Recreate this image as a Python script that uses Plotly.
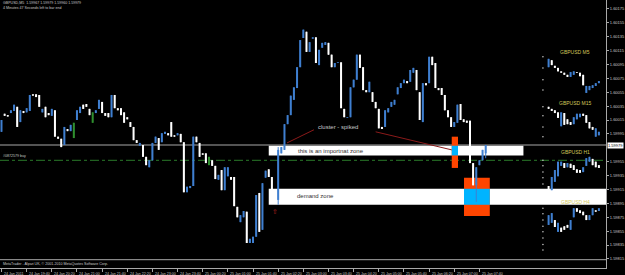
import plotly.graph_objects as go
import pandas as pd

# ---------------- data (GBPUSD M5) ----------------
bar_times = pd.date_range("2011-01-24 19:00", periods=155, freq="5min")

opens = [
    1.59998, 1.60024, 1.60022, 1.60025, 1.60028, 1.60034, 1.60012, 1.60028, 1.60026, 1.60028,
    1.60052, 1.60052, 1.60051, 1.60026, 1.60034, 1.60025, 1.60021, 1.60029, 1.59991, 1.59988,
    1.59979, 1.60002, 1.59999, 1.59989, 1.60015, 1.60025, 1.60037, 1.60038, 1.60031, 1.60011,
    1.60025, 1.60031, 1.60041, 1.60025, 1.60025, 1.60019, 1.60051, 1.60032, 1.60032, 1.60026,
    1.60019, 1.60012, 1.60005, 1.59986, 1.59978, 1.59979, 1.59962, 1.59947, 1.59957, 1.59982,
    1.59989, 1.59983, 1.59995, 1.59996, 1.60012, 1.59993, 1.59993, 1.59995, 1.59983, 1.59911,
    1.59917, 1.59920, 1.59991, 1.59982, 1.59967, 1.59967, 1.59950, 1.59957, 1.59949, 1.59929,
    1.59943, 1.59914, 1.59934, 1.59933, 1.59933, 1.59890, 1.59868, 1.59875, 1.59883, 1.59838,
    1.59838, 1.59847, 1.59910, 1.59857, 1.59932, 1.59944, 1.59933, 1.59914, 1.59900, 1.59967,
    1.59972, 1.60009, 1.60022, 1.60044, 1.60061, 1.60091, 1.60133, 1.60142, 1.60113, 1.60132,
    1.60134, 1.60094, 1.60119, 1.60123, 1.60126, 1.60109, 1.60091, 1.60097, 1.60098, 1.60031,
    1.60018, 1.60019, 1.60062, 1.60073, 1.60109, 1.60091, 1.60058, 1.60055, 1.60055, 1.60041,
    1.60031, 1.60005, 1.60005, 1.60026, 1.60034, 1.60037, 1.60052, 1.60061, 1.60068, 1.60071,
    1.60070, 1.60083, 1.60087, 1.60055, 1.60012, 1.60068, 1.60068, 1.60106, 1.60097, 1.60061,
    1.60061, 1.60051, 1.60029, 1.60019, 1.60005, 1.60011, 1.60038, 1.60016, 1.60014, 1.60014,
    1.59953, 1.59921, 1.59950, 1.59957, 1.59967,
]
highs = [
    1.60015, 1.60024, 1.60022, 1.60029, 1.60037, 1.60034, 1.60029, 1.60028, 1.60032, 1.60051,
    1.60052, 1.60052, 1.60051, 1.60031, 1.60034, 1.60025, 1.60031, 1.60029, 1.59991, 1.59988,
    1.60005, 1.60002, 1.60008, 1.60011, 1.60029, 1.60034, 1.60037, 1.60038, 1.60031, 1.60026,
    1.60029, 1.60044, 1.60041, 1.60025, 1.60025, 1.60051, 1.60051, 1.60032, 1.60032, 1.60026,
    1.60019, 1.60012, 1.60005, 1.59986, 1.59982, 1.59979, 1.59962, 1.59957, 1.59982, 1.59991,
    1.59989, 1.59996, 1.59998, 1.59996, 1.60012, 1.59993, 1.59996, 1.59995, 1.59983, 1.59919,
    1.59920, 1.59991, 1.59991, 1.59982, 1.59967, 1.59967, 1.59962, 1.59957, 1.59949, 1.59936,
    1.59943, 1.59947, 1.59947, 1.59933, 1.59933, 1.59890, 1.59878, 1.59884, 1.59883, 1.59844,
    1.59847, 1.59907, 1.59910, 1.59924, 1.59942, 1.59944, 1.59933, 1.59914, 1.59976, 1.59976,
    1.60009, 1.60022, 1.60050, 1.60062, 1.60091, 1.60130, 1.60145, 1.60142, 1.60127, 1.60134,
    1.60134, 1.60116, 1.60126, 1.60127, 1.60126, 1.60109, 1.60097, 1.60098, 1.60098, 1.60031,
    1.60019, 1.60062, 1.60073, 1.60109, 1.60109, 1.60091, 1.60058, 1.60070, 1.60055, 1.60041,
    1.60031, 1.60005, 1.60029, 1.60032, 1.60041, 1.60044, 1.60062, 1.60068, 1.60073, 1.60071,
    1.60087, 1.60090, 1.60087, 1.60055, 1.60068, 1.60068, 1.60106, 1.60106, 1.60097, 1.60061,
    1.60061, 1.60051, 1.60029, 1.60019, 1.60012, 1.60037, 1.60038, 1.60016, 1.60014, 1.60014,
    1.59953, 1.59947, 1.59957, 1.59972, 1.59979,
]
lows = [
    1.59998, 1.60021, 1.60020, 1.60025, 1.60028, 1.60005, 1.60012, 1.60025, 1.60026, 1.60028,
    1.60050, 1.60048, 1.60034, 1.60026, 1.60019, 1.60022, 1.60021, 1.59991, 1.59988, 1.59976,
    1.59979, 1.59999, 1.59999, 1.59989, 1.60015, 1.60025, 1.60031, 1.60034, 1.60022, 1.60011,
    1.60025, 1.60031, 1.60025, 1.60021, 1.60019, 1.60019, 1.60032, 1.60029, 1.60022, 1.60011,
    1.60016, 1.60005, 1.59986, 1.59982, 1.59978, 1.59962, 1.59950, 1.59947, 1.59957, 1.59982,
    1.59972, 1.59983, 1.59995, 1.59993, 1.59991, 1.59991, 1.59993, 1.59983, 1.59911, 1.59911,
    1.59917, 1.59920, 1.59983, 1.59962, 1.59965, 1.59953, 1.59950, 1.59949, 1.59930, 1.59929,
    1.59914, 1.59914, 1.59934, 1.59929, 1.59891, 1.59875, 1.59868, 1.59875, 1.59838, 1.59838,
    1.59838, 1.59847, 1.59854, 1.59857, 1.59932, 1.59933, 1.59914, 1.59896, 1.59893, 1.59967,
    1.59972, 1.60009, 1.60022, 1.60044, 1.60061, 1.60091, 1.60133, 1.60113, 1.60113, 1.60132,
    1.60097, 1.60094, 1.60119, 1.60123, 1.60109, 1.60091, 1.60091, 1.60097, 1.60032, 1.60019,
    1.60018, 1.60019, 1.60062, 1.60073, 1.60090, 1.60058, 1.60055, 1.60055, 1.60041, 1.60032,
    1.60003, 1.60002, 1.60005, 1.60026, 1.60034, 1.60037, 1.60052, 1.60061, 1.60068, 1.60068,
    1.60070, 1.60083, 1.60058, 1.60015, 1.60012, 1.60065, 1.60068, 1.60094, 1.60061, 1.60058,
    1.60051, 1.60029, 1.60019, 1.60005, 1.60005, 1.60011, 1.60015, 1.60012, 1.60011, 1.59953,
    1.59921, 1.59897, 1.59950, 1.59957, 1.59960,
]
closes = [
    1.60015, 1.60021, 1.60020, 1.60029, 1.60037, 1.60005, 1.60029, 1.60025, 1.60032, 1.60051,
    1.60050, 1.60048, 1.60034, 1.60031, 1.60019, 1.60022, 1.60031, 1.59991, 1.59988, 1.59976,
    1.60005, 1.59999, 1.60008, 1.60011, 1.60029, 1.60034, 1.60031, 1.60034, 1.60022, 1.60026,
    1.60029, 1.60044, 1.60025, 1.60021, 1.60019, 1.60051, 1.60032, 1.60029, 1.60022, 1.60011,
    1.60016, 1.60005, 1.59986, 1.59982, 1.59982, 1.59962, 1.59950, 1.59957, 1.59982, 1.59991,
    1.59972, 1.59996, 1.59998, 1.59993, 1.59991, 1.59991, 1.59996, 1.59983, 1.59911, 1.59919,
    1.59920, 1.59991, 1.59983, 1.59962, 1.59965, 1.59953, 1.59962, 1.59949, 1.59930, 1.59936,
    1.59914, 1.59947, 1.59947, 1.59929, 1.59891, 1.59875, 1.59878, 1.59884, 1.59838, 1.59844,
    1.59847, 1.59907, 1.59854, 1.59924, 1.59942, 1.59933, 1.59914, 1.59896, 1.59972, 1.59976,
    1.60009, 1.60022, 1.60050, 1.60062, 1.60091, 1.60130, 1.60145, 1.60113, 1.60127, 1.60134,
    1.60097, 1.60116, 1.60126, 1.60127, 1.60109, 1.60091, 1.60097, 1.60098, 1.60032, 1.60019,
    1.60019, 1.60062, 1.60073, 1.60109, 1.60090, 1.60058, 1.60055, 1.60070, 1.60041, 1.60032,
    1.60003, 1.60002, 1.60029, 1.60032, 1.60041, 1.60044, 1.60062, 1.60068, 1.60073, 1.60068,
    1.60087, 1.60090, 1.60058, 1.60015, 1.60068, 1.60065, 1.60106, 1.60094, 1.60061, 1.60058,
    1.60051, 1.60029, 1.60019, 1.60005, 1.60012, 1.60037, 1.60015, 1.60012, 1.60011, 1.59953,
    1.59921, 1.59947, 1.59957, 1.59972, 1.59979,
]
green_bars = [23, 29, 66]
assert len(opens) == len(highs) == len(lows) == len(closes) == len(bar_times)

bid_price = 1.59979
order_price = 1.59957
order_label = "#0872579 buy"

# price-scale labels (the one under the bid box is hidden)
price_ticks = [1.60175, 1.60155, 1.60135, 1.60115, 1.60095, 1.60075, 1.60055, 1.60035, 1.60015,
               1.59995, 1.59955, 1.59935, 1.59915, 1.59895, 1.59875, 1.59855, 1.59835, 1.59815]
time_ticks = pd.date_range("2011-01-24 19:00", "2011-01-25 07:40", freq="40min")
time_labels = ["24 Jan 2011"] + [t.strftime("%d Jan %H:%M").lstrip("0") for t in time_ticks[1:]]

# mini charts (indicator panels on the right)
mini_times = pd.date_range("2011-01-25 09:30", periods=17, freq="5min")
m5_open = [1.60091, 1.60101, 1.60093, 1.60090, 1.60085, 1.60083, 1.60080, 1.60077, 1.60080,
           1.60084, 1.60083, 1.60080, 1.60054, 1.60058, 1.60061, 1.60064, 1.60068]
m5_close = [1.60103, 1.60094, 1.60090, 1.60085, 1.60083, 1.60080, 1.60077, 1.60084, 1.60085,
            1.60083, 1.60078, 1.60065, 1.60064, 1.60064, 1.60065, 1.60068, 1.60071]
m15_open = [1.60034, 1.60031, 1.60029, 1.60026, 1.60006, 1.60025, 1.60016, 1.60012, 1.60009,
            1.60016, 1.60019, 1.60024, 1.60022, 1.60012, 1.60005, 1.59991, 1.59993]
m15_close = [1.60031, 1.60028, 1.60025, 1.60018, 1.60026, 1.60008, 1.60009, 1.60008, 1.60019,
             1.60024, 1.60024, 1.60021, 1.60011, 1.60003, 1.60001, 1.60003, 1.59998]
h1_open = [1.59920, 1.59914, 1.59926, 1.59934, 1.59949, 1.59953, 1.59947, 1.59952, 1.59950,
           1.59944, 1.59943, 1.59940, 1.59949, 1.59955, 1.59959, 1.59955, 1.59950]
h1_close = [1.59910, 1.59933, 1.59943, 1.59955, 1.59955, 1.59946, 1.59953, 1.59946, 1.59943,
            1.59939, 1.59939, 1.59947, 1.59960, 1.59962, 1.59950, 1.59947, 1.59946]
h4_open = [1.59864, 1.59867, 1.59871, 1.59854, 1.59860, 1.59862, 1.59864, 1.59857, 1.59875,
           1.59888, 1.59885, 1.59883, 1.59878, 1.59871, 1.59878, 1.59885, 1.59884]
h4_close = [1.59878, 1.59881, 1.59861, 1.59867, 1.59854, 1.59857, 1.59860, 1.59871, 1.59888,
            1.59883, 1.59881, 1.59878, 1.59871, 1.59878, 1.59888, 1.59883, 1.59888]
mini_scale_time = pd.Timestamp("2011-01-25 09:21")
mini_scale_prices = [1.60106, 1.60090, 1.60073, 1.60058, 1.60034, 1.60021, 1.60005, 1.59991,
                     1.59957, 1.59949, 1.59940, 1.59932, 1.59923,
                     1.59888, 1.59880, 1.59871, 1.59862, 1.59854, 1.59845, 1.59836, 1.59828]
mini_labels = ["GBPUSD M5", "GBPUSD M15", "GBPUSD H1", "GBPUSD H4"]
mini_label_prices = [1.60113, 1.60039, 1.59969, 1.59897]
mini_label_time = pd.Timestamp("2011-01-25 10:12")

# chart objects (time / price)
important_zone = ("2011-01-25 02:05", "2011-01-25 08:50", 1.59964, 1.59978)
demand_zone = ("2011-01-25 02:05", "2011-01-25 12:00", 1.59893, 1.59916)
box_small = ("2011-01-25 06:56", "2011-01-25 07:06", 1.59946, 1.59991)
box_big = ("2011-01-25 07:15:30", "2011-01-25 07:56:30", 1.59877, 1.59932)
trend_lines = [("2011-01-25 02:34", 1.59982, "2011-01-25 03:17", 1.60001),
               ("2011-01-25 04:55", 1.59998, "2011-01-25 06:56", 1.59972)]
arrow_point = ("2011-01-25 02:15", 1.59883)

# ---------------- styles ----------------
BLUE = "#3f7fd0"
WHITE = "#ffffff"
GREEN = "#2f8f2f"
GRAY = "#a8a8a8"
TXT = "#c8c8c8"
FONT = "Liberation Sans, Arial, sans-serif"
ORANGE = "#ff4500"
XORBLUE = "#00b4ff"
SMALL = 3.6

fig = go.Figure()


def add_bars(times, o, h, l, c, specials=()):
    groups = {BLUE: ([], [], [], []), WHITE: ([], [], [], []), GREEN: ([], [], [], [])}
    for i, t in enumerate(times):
        if i in specials:
            col = GREEN
        elif c[i] > o[i]:
            col = BLUE
        else:
            col = WHITE
        bx, by, wx, wy = groups[col]
        wx += [t, t, None]
        wy += [l[i], h[i], None]
        bx += [t, t, None]
        by += [o[i], c[i], None]
    for col, (bx, by, wx, wy) in groups.items():
        if not bx:
            continue
        fig.add_trace(go.Scatter(x=wx, y=wy, mode="lines", line=dict(color=col, width=1),
                                 hoverinfo="skip"))
        fig.add_trace(go.Scatter(x=bx, y=by, mode="lines", line=dict(color=col, width=2),
                                 hoverinfo="skip"))


add_bars(bar_times, opens, highs, lows, closes, specials=green_bars)
for mo, mc in [(m5_open, m5_close), (m15_open, m15_close), (h1_open, h1_close), (h4_open, h4_close)]:
    add_bars(mini_times, mo, [max(a, b) for a, b in zip(mo, mc)],
             [min(a, b) for a, b in zip(mo, mc)], mc)

fig.add_trace(go.Scatter(x=[mini_scale_time] * len(mini_scale_prices), y=mini_scale_prices,
                         mode="markers", marker=dict(color="#d0d0d0", size=1.5),
                         hoverinfo="skip"))

shapes = []


def rect(z, color):
    shapes.append(dict(type="rect", xref="x", yref="y", x0=z[0], x1=z[1], y0=z[2], y1=z[3],
                       fillcolor=color, line=dict(width=0), layer="below"))


rect(important_zone, WHITE)
rect(demand_zone, WHITE)
rect(box_small, ORANGE)
rect((box_small[0], box_small[1], important_zone[2], important_zone[3]), XORBLUE)
rect(box_big, ORANGE)
rect((box_big[0], box_big[1], demand_zone[2], demand_zone[3]), XORBLUE)

shapes.append(dict(type="line", xref="paper", yref="y", x0=0, x1=1, y0=bid_price, y1=bid_price,
                   line=dict(color=GRAY, width=1), layer="below"))
shapes.append(dict(type="line", xref="paper", yref="y", x0=0, x1=1, y0=order_price, y1=order_price,
                   line=dict(color="#2a7a2a", width=1, dash="dashdot"), layer="below"))
for x0, y0, x1, y1 in trend_lines:
    shapes.append(dict(type="line", xref="x", yref="y", x0=x0, y0=y0, x1=x1, y1=y1,
                       line=dict(color="#8b1a1a", width=1), layer="below"))
# separator of the small bottom strip
shapes.append(dict(type="line", xref="paper", yref="paper", x0=0, x1=1, y0=8.3 / 268, y1=8.3 / 268,
                   line=dict(color=GRAY, width=1)))

ann = []
ann.append(dict(x=0, y=1, xref="paper", yref="paper", xanchor="left", yanchor="top", xshift=1, yshift=1,
                text="GBPUSD,M5  %.5f %.5f %.5f %.5f" % (opens[-1], highs[-1], lows[-1], closes[-1]),
                showarrow=False, font=dict(size=SMALL, color=TXT, family=FONT)))
ann.append(dict(x=0, y=1, xref="paper", yref="paper", xanchor="left", yanchor="top", xshift=1, yshift=-4,
                text="4 Minutes 47 Seconds left to bar end", showarrow=False,
                font=dict(size=SMALL, color=TXT, family=FONT)))
ann.append(dict(x=0, y=8.3 / 268, xref="paper", yref="paper", xanchor="left", yanchor="top", xshift=1,
                text="MetaTrader - Alpari UK, © 2001-2010 MetaQuotes Software Corp.", showarrow=False,
                font=dict(size=SMALL, color=TXT, family=FONT)))
for t, lab in zip(time_ticks, time_labels):
    ann.append(dict(x=t, y=0, xref="x", yref="paper", xanchor="left", yanchor="top", xshift=0.5, yshift=-1.5,
                    text=lab, showarrow=False, font=dict(size=SMALL, color=TXT, family=FONT)))
ann.append(dict(x=bar_times[0], y=order_price, xref="x", yref="y", xanchor="left", yanchor="bottom",
                text=order_label, showarrow=False, font=dict(size=SMALL, color=TXT, family=FONT)))
ann.append(dict(x=1, y=bid_price, xref="paper", yref="y", xanchor="left", yanchor="middle", xshift=1,
                text="%.5f" % bid_price, showarrow=False, bgcolor="#ffffff",
                font=dict(size=4, color="#000000", family=FONT), borderpad=0))
ann.append(dict(x="2011-01-25 03:55", y=1.60005, xref="x", yref="y", xanchor="center", yanchor="middle",
                text="cluster - spiked", showarrow=False, font=dict(size=6, color=TXT, family=FONT)))
ann.append(dict(x="2011-01-25 02:48:30", y=1.59971, xref="x", yref="y", xanchor="left", yanchor="middle",
                text="this is an importnat zone", showarrow=False,
                font=dict(size=6, color="#303030", family=FONT)))
ann.append(dict(x="2011-01-25 02:47", y=1.59905, xref="x", yref="y", xanchor="left", yanchor="middle",
                text="demand zone", showarrow=False, font=dict(size=6, color="#303030", family=FONT)))
ann.append(dict(x=arrow_point[0], y=arrow_point[1], xref="x", yref="y", xanchor="center", yanchor="middle",
                text="⇧", showarrow=False, font=dict(size=7, color="#b22222", family="DejaVu Sans")))
for lab, pr in zip(mini_labels, mini_label_prices):
    ann.append(dict(x=mini_label_time, y=pr, xref="x", yref="y", xanchor="center", yanchor="middle",
                    text=lab, showarrow=False, font=dict(size=5, color="#d2c85a", family=FONT)))

fig.update_layout(
    width=625, height=275,
    margin=dict(l=0, r=15, t=0, b=7),
    paper_bgcolor="#000000", plot_bgcolor="#000000",
    showlegend=False,
    shapes=shapes, annotations=ann,
    xaxis=dict(range=["2011-01-24 18:57:38", "2011-01-25 11:01:18"], showgrid=False, zeroline=False,
               showline=True, linecolor=GRAY, linewidth=1, ticks="outside", ticklen=3, tickcolor=GRAY,
               tickvals=list(time_ticks), showticklabels=False, fixedrange=True),
    yaxis=dict(range=[1.598020, 1.601877], side="right", showgrid=False, zeroline=False,
               showline=True, linecolor=GRAY, linewidth=1, ticks="outside", ticklen=2, tickcolor=GRAY,
               tickvals=price_ticks, ticktext=["%.5f" % v for v in price_ticks],
               tickfont=dict(size=4, color=TXT, family=FONT), fixedrange=True),
)

fig.write_html("out.html")
